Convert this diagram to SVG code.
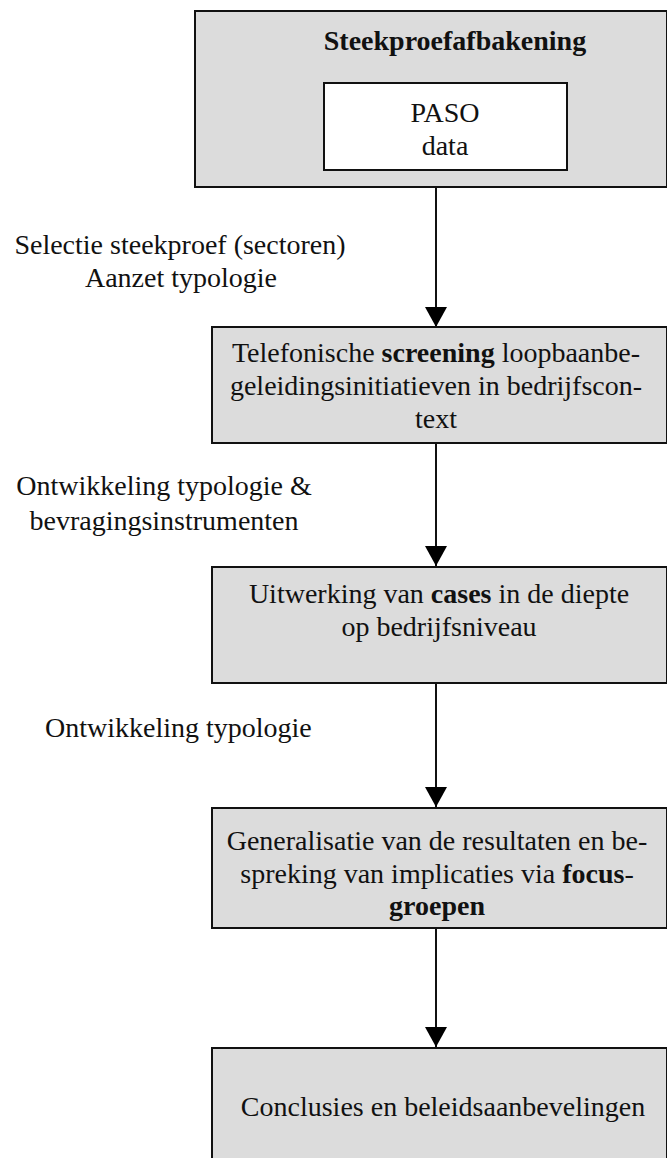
<svg xmlns="http://www.w3.org/2000/svg" width="667" height="1158" viewBox="0 0 667 1158">
<defs>
<style>
.box{fill:#dcdcdc;stroke:#111;stroke-width:2}
.inner{fill:#fff;stroke:#111;stroke-width:2}
text{font-family:"Liberation Serif","Times New Roman",serif;font-size:28px;fill:#111}
.c{text-anchor:middle}
.b{font-weight:bold}
.conn{stroke:#111;stroke-width:2;fill:none}
</style>
<marker id="ah" markerWidth="20" markerHeight="22" refX="20" refY="11" orient="auto" markerUnits="userSpaceOnUse" viewBox="0 0 20 22">
<path d="M0,0 L20,11 L0,22 Z" fill="#000"/>
</marker>
</defs>
<rect width="667" height="1158" fill="#fff"/>
<g id="connectors">
<line class="conn" x1="436" y1="187" x2="436" y2="327" marker-end="url(#ah)"/>
<line class="conn" x1="436" y1="443" x2="436" y2="566" marker-end="url(#ah)"/>
<line class="conn" x1="436" y1="683" x2="436" y2="807" marker-end="url(#ah)"/>
<line class="conn" x1="436" y1="928" x2="436" y2="1047" marker-end="url(#ah)"/>
</g>
<g id="labels">
<text class="c" x="180" y="254">Selectie steekproef (sectoren)</text>
<text class="c" x="181" y="287">Aanzet typologie</text>
<text class="c" x="164" y="495">Ontwikkeling typologie &amp;</text>
<text class="c" x="164" y="530">bevragingsinstrumenten</text>
<text x="45" y="737">Ontwikkeling typologie</text>
</g>
<g id="node-steekproef">
<rect class="box" x="195" y="11" width="472" height="176"/>
<text class="c b" x="455" y="50">Steekproefafbakening</text>
<g id="node-paso">
<rect class="inner" x="324" y="83" width="243" height="87"/>
<text class="c" x="445" y="122">PASO</text>
<text class="c" x="445" y="155">data</text>
</g>
</g>
<g id="node-screening">
<rect class="box" x="212" y="327" width="455" height="116"/>
<text class="c" x="436" y="362">Telefonische <tspan class="b">screening</tspan> loopbaanbe-</text>
<text class="c" x="436" y="395">geleidingsinitiatieven in bedrijfscon-</text>
<text class="c" x="436" y="428">text</text>
</g>
<g id="node-cases">
<rect class="box" x="212" y="567" width="455" height="116"/>
<text class="c" x="439" y="603">Uitwerking van <tspan class="b">cases</tspan> in de diepte</text>
<text class="c" x="439" y="636">op bedrijfsniveau</text>
</g>
<g id="node-generalisatie">
<rect class="box" x="212" y="808" width="455" height="120"/>
<text class="c" x="437" y="850">Generalisatie van de resultaten en be-</text>
<text class="c" x="437" y="883">spreking van implicaties via <tspan class="b">focus</tspan>-</text>
<text class="c b" x="437" y="915">groepen</text>
</g>
<g id="node-conclusies">
<rect class="box" x="212" y="1048" width="455" height="120"/>
<text class="c" x="443" y="1116">Conclusies en beleidsaanbevelingen</text>
</g>
</svg>
